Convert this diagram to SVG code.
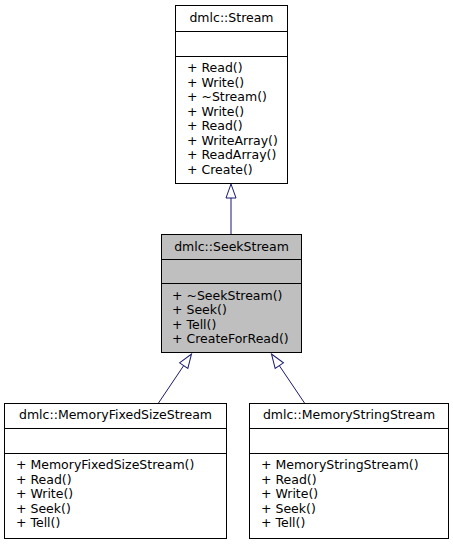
<svg xmlns="http://www.w3.org/2000/svg" width="453" height="544" viewBox="0 0 453 544">
<style>
  .box { fill: #ffffff; stroke: #000000; stroke-width: 1; }
  .cur { fill: #bfbfbf; stroke: #000000; stroke-width: 1; }
  .div { stroke: #000000; stroke-width: 1; }
  .t { font-family: "DejaVu Sans", sans-serif; font-size: 12.5px; fill: #000000; }
  .c { text-anchor: middle; }
  .edge { stroke: #191970; stroke-width: 1; fill: none; marker-end: url(#inh); }
</style>
<defs>
  <marker id="inh" markerUnits="userSpaceOnUse" orient="auto" refX="0" refY="0" markerWidth="16" markerHeight="12" overflow="visible">
    <path d="M0,-5 L14,0 L0,5 Z" fill="#ffffff" stroke="#191970" stroke-width="1"/>
  </marker>
</defs>
<rect width="453" height="544" fill="#ffffff"/>
<g id="connectors">
  <line class="edge" x1="231" y1="234" x2="231" y2="198"/>
  <line class="edge" x1="158.5" y1="403" x2="183.7" y2="365.6"/>
  <line class="edge" x1="304.5" y1="403" x2="279.3" y2="365.6"/>
</g>
<g id="stream">
  <rect class="box" x="175.5" y="5.5" width="112" height="178"/>
  <line class="div" x1="175.5" y1="31.5" x2="287.5" y2="31.5"/>
  <line class="div" x1="175.5" y1="56.5" x2="287.5" y2="56.5"/>
  <text class="t c" x="231.5" y="22">dmlc::Stream</text>
  <text class="t" x="187" y="72">+ Read()</text>
  <text class="t" x="187" y="86.5">+ Write()</text>
  <text class="t" x="187" y="101">+ ~Stream()</text>
  <text class="t" x="187" y="115.5">+ Write()</text>
  <text class="t" x="187" y="130">+ Read()</text>
  <text class="t" x="187" y="144.5">+ WriteArray()</text>
  <text class="t" x="187" y="159">+ ReadArray()</text>
  <text class="t" x="187" y="173.5">+ Create()</text>
</g>
<g id="seekstream">
  <rect class="cur" x="161.5" y="234.5" width="140" height="118"/>
  <line class="div" x1="161.5" y1="259.5" x2="301.5" y2="259.5"/>
  <line class="div" x1="161.5" y1="283.5" x2="301.5" y2="283.5"/>
  <text class="t c" x="231.5" y="251">dmlc::SeekStream</text>
  <text class="t" x="172" y="299.5">+ ~SeekStream()</text>
  <text class="t" x="172" y="314">+ Seek()</text>
  <text class="t" x="172" y="328.5">+ Tell()</text>
  <text class="t" x="172" y="343">+ CreateForRead()</text>
</g>
<g id="memoryfixedsizestream">
  <rect class="box" x="4.5" y="403.5" width="222" height="135"/>
  <line class="div" x1="4.5" y1="428.5" x2="226.5" y2="428.5"/>
  <line class="div" x1="4.5" y1="453.5" x2="226.5" y2="453.5"/>
  <text class="t c" x="115.5" y="419">dmlc::MemoryFixedSizeStream</text>
  <text class="t" x="16" y="469">+ MemoryFixedSizeStream()</text>
  <text class="t" x="16" y="483.5">+ Read()</text>
  <text class="t" x="16" y="498">+ Write()</text>
  <text class="t" x="16" y="512.5">+ Seek()</text>
  <text class="t" x="16" y="527">+ Tell()</text>
</g>
<g id="memorystringstream">
  <rect class="box" x="249.5" y="403.5" width="199" height="135"/>
  <line class="div" x1="249.5" y1="428.5" x2="448.5" y2="428.5"/>
  <line class="div" x1="249.5" y1="453.5" x2="448.5" y2="453.5"/>
  <text class="t c" x="349" y="419">dmlc::MemoryStringStream</text>
  <text class="t" x="261" y="469">+ MemoryStringStream()</text>
  <text class="t" x="261" y="483.5">+ Read()</text>
  <text class="t" x="261" y="498">+ Write()</text>
  <text class="t" x="261" y="512.5">+ Seek()</text>
  <text class="t" x="261" y="527">+ Tell()</text>
</g>
</svg>
